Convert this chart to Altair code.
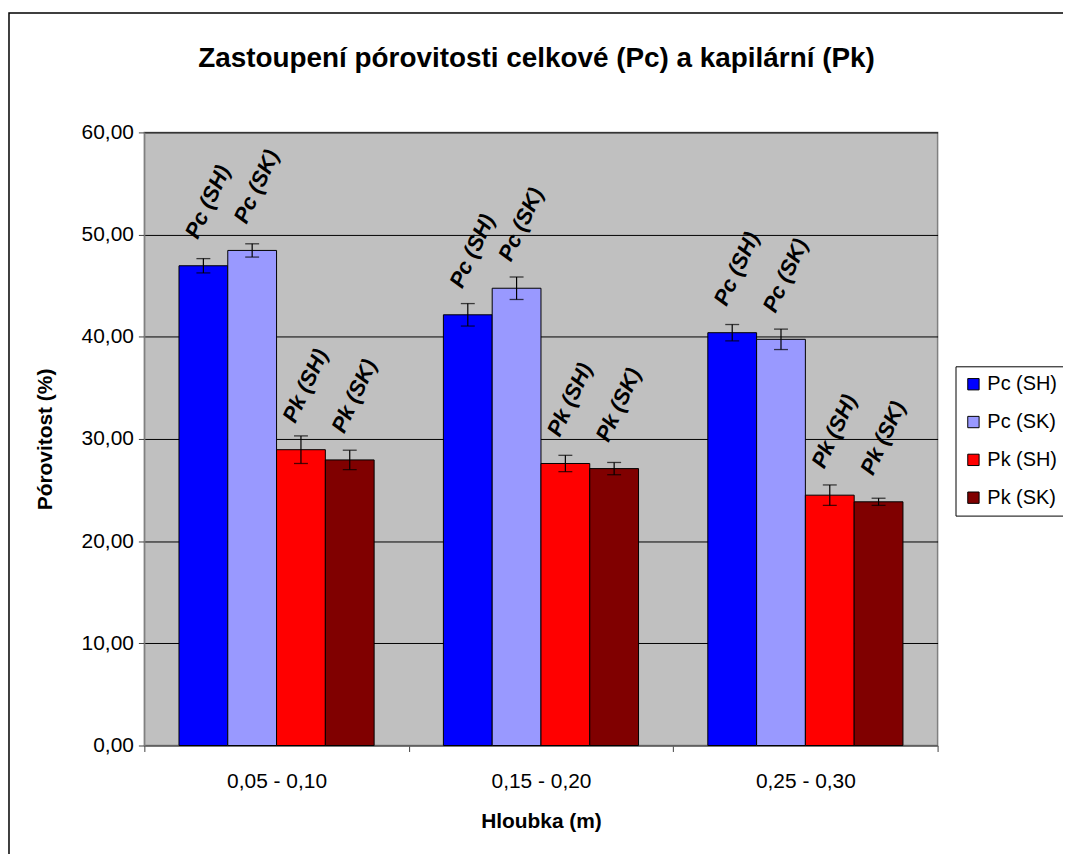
import altair as alt
import pandas as pd

categories = ["0,05 - 0,10", "0,15 - 0,20", "0,25 - 0,30"]
series = ["Pc (SH)", "Pc (SK)", "Pk (SH)", "Pk (SK)"]
colors = ["#0000FF", "#9999FF", "#FF0000", "#800000"]

pc_sh = [46.95, 42.15, 40.40]
pc_sk = [48.45, 44.75, 39.75]
pk_sh = [28.95, 27.60, 24.50]
pk_sk = [27.95, 27.10, 23.85]

pc_sh_err = [0.70, 1.10, 0.80]
pc_sk_err = [0.65, 1.10, 1.00]
pk_sh_err = [1.35, 0.80, 1.00]
pk_sk_err = [0.95, 0.60, 0.35]

title_text = ["Zastoupení pórovitosti celkové (Pc) a kapilární (Pk)"]

rows = []
for name, vals, errs in zip(series, [pc_sh, pc_sk, pk_sh, pk_sk],
                            [pc_sh_err, pc_sk_err, pk_sh_err, pk_sk_err]):
    for cat, v, e in zip(categories, vals, errs):
        rows.append({"depth": cat, "series": name, "value": v, "err": e})
df = pd.DataFrame(rows)

FONT = "Liberation Sans"

base = alt.Chart(df).transform_calculate(
    lo="datum.value - datum.err", hi="datum.value + datum.err"
).encode(
    x=alt.X("depth:N", sort=categories,
            scale=alt.Scale(paddingInner=0, paddingOuter=0),
            axis=alt.Axis(title="Hloubka (m)", labelAngle=0, tickBand="extent",
                          labelFontSize=21, titleFontSize=21, titleFontWeight="bold",
                          labelPadding=19, titlePadding=19, tickSize=6,
                          domainColor="#808080", tickColor="#404040",
                          labelColor="black", titleColor="black")),
    xOffset=alt.XOffset("series:N", sort=series,
                        scale=alt.Scale(paddingInner=0, paddingOuter=0.71)),
)

bars = base.mark_bar(stroke="black", strokeWidth=1).encode(
    y=alt.Y("value:Q", scale=alt.Scale(domain=[0, 60], nice=False),
            axis=alt.Axis(title="Pórovitost (%)", values=[0, 10, 20, 30, 40, 50, 60],
                          labelExpr="replace(format(datum.value, '.2f'), '.', ',')",
                          labelFontSize=21, titleFontSize=21, titleFontWeight="bold",
                          labelPadding=5, titlePadding=26, tickSize=6,
                          grid=True, gridColor="black", gridWidth=1,
                          domainColor="#808080", tickColor="#404040",
                          labelColor="black", titleColor="black")),
    color=alt.Color("series:N", sort=series,
                    scale=alt.Scale(domain=series, range=colors),
                    legend=alt.Legend(title=None, orient="none", legendX=815, legendY=235,
                                      fillColor="white", strokeColor="black", padding=8,
                                      symbolType="square", symbolSize=130,
                                      symbolStrokeColor="black", symbolStrokeWidth=1,
                                      labelFontSize=20, rowPadding=18, labelOffset=4,
                                      labelColor="black")),
)

rules = base.mark_rule(color="black", strokeWidth=1.2).encode(
    y="lo:Q", y2="hi:Q")
caps_lo = base.mark_tick(color="black", size=14, thickness=1.3).encode(y="lo:Q")
caps_hi = base.mark_tick(color="black", size=14, thickness=1.3).encode(y="hi:Q")

labels = base.mark_text(angle=295, align="left", baseline="middle", dx=21, dy=-23,
                        fontSize=22, fontWeight="bold", fontStyle="italic",
                        font=FONT, color="black").encode(
    y="value:Q", text="series:N")

title = alt.Chart(pd.DataFrame({"t": title_text})).mark_text(
    fontSize=28, fontWeight="bold", font=FONT, color="black",
    align="center", baseline="alphabetic"
).encode(x=alt.value(394), y=alt.value(-66), text="t:N")

border = alt.Chart(pd.DataFrame({"k": [0]})).mark_rect(
    fill=None, stroke="black", strokeWidth=1.5, clip=False
).encode(x=alt.value(-136), x2=alt.value(960), y=alt.value(-120), y2=alt.value(760))

chart = alt.layer(border, bars, rules, caps_lo, caps_hi, labels, title).properties(
    width=797, height=616,
    autosize=alt.AutoSizeParams(type="none"),
    padding={"left": 137, "top": 123, "right": 126, "bottom": 107},
).configure(font=FONT).configure_view(
    fill="#C0C0C0", stroke="#808080", strokeWidth=1.5
)

chart.save("out.html", embed_options={"renderer": "svg", "actions": False})
